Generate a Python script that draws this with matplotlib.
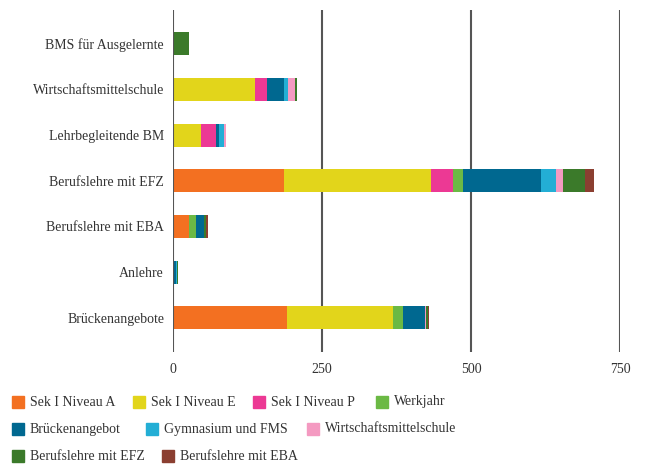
import matplotlib.pyplot as plt
from matplotlib.patches import Rectangle
import numpy as np

plt.rcParams['font.family'] = ['Liberation Serif', 'DejaVu Serif']

categories = ['BMS für Ausgelernte', 'Wirtschaftsmittelschule', 'Lehrbegleitende BM',
              'Berufslehre mit EFZ', 'Berufslehre mit EBA', 'Anlehre', 'Brückenangebote']

series = ['Sek I Niveau A', 'Sek I Niveau E', 'Sek I Niveau P', 'Werkjahr',
          'Brückenangebot', 'Gymnasium und FMS', 'Wirtschaftsmittelschule',
          'Berufslehre mit EFZ', 'Berufslehre mit EBA']

sek_a = [0, 0, 0, 186, 26, 0, 191]
sek_e = [0, 137, 47, 247, 0, 0, 178]
sek_p = [0, 21, 25, 37, 0, 0, 0]
werkjahr = [0, 0, 0, 17, 12, 0, 17]
bruecke = [0, 28, 5, 131, 14, 4, 36]
gym_fms = [0, 7, 8, 24, 0, 2, 0]
wms = [2, 12, 3, 12, 0, 0, 2]
efz = [24, 3, 0, 37, 3, 3, 4]
eba = [0, 0, 0, 15, 3, 0, 1]

values = [sek_a, sek_e, sek_p, werkjahr, bruecke, gym_fms, wms, efz, eba]
colors = ['#F37021', '#E2D51B', '#EC3994', '#6BB944', '#006890',
          '#23AED5', '#F49AC1', '#3B7A2A', '#8B3F31']

fig = plt.figure(figsize=(6.46, 4.66), dpi=100)
ax = fig.add_axes([0.268, 0.245, 0.692, 0.734])

y = np.arange(len(categories))[::-1]
left = np.zeros(len(categories))
for vals, col in zip(values, colors):
    ax.barh(y, vals, left=left, height=0.5, color=col, zorder=2)
    left += np.array(vals)

ax.set_xlim(0, 750)
ax.set_ylim(-0.745, 6.745)
ax.set_xticks([0, 250, 500, 750])
ax.set_yticks(y)
ax.set_yticklabels(categories, fontsize=10, color='#333333')
ax.tick_params(axis='x', labelsize=10, labelcolor='#333333', length=0, pad=8)
ax.tick_params(axis='y', length=0, pad=6.5)
for s in ax.spines.values():
    s.set_visible(False)
for xv in [0, 250, 500, 750]:
    ax.axvline(xv, color='#555555', lw=1.5, zorder=1 if xv else 3)

# legend, laid out in flowing rows like the original
rows = [
    [(0, 12), (1, 133), (2, 253), (3, 376)],
    [(4, 12), (5, 146), (6, 307)],
    [(7, 12), (8, 162)],
]
row_y = [402, 429, 456]
W, H = 646, 466
for r, ypix in zip(rows, row_y):
    for idx, xpix in r:
        fig.add_artist(Rectangle((xpix / W, 1 - (ypix + 6) / H), 12 / W, 12 / H,
                                 color=colors[idx], transform=fig.transFigure))
        fig.text((xpix + 18) / W, 1 - ypix / H, series[idx], fontsize=10,
                 color='#333333', va='center', ha='left')

fig.savefig('out.png', dpi=100)
